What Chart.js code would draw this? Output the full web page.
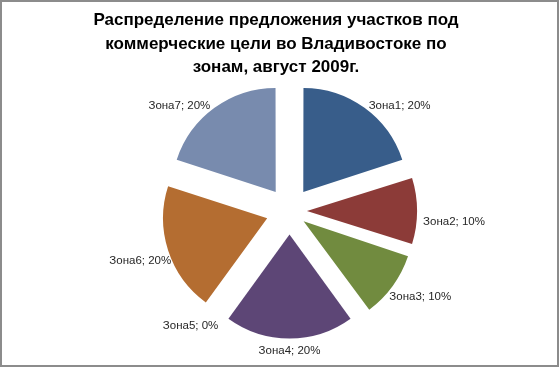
<!DOCTYPE html>
<html>
<head>
<meta charset="utf-8">
<script src="https://cdn.jsdelivr.net/npm/chart.js@4.4.0/dist/chart.umd.min.js"></script>
<style>
  html, body { margin: 0; padding: 0; background: #fff; }
  #wrap { width: 559px; height: 367px; position: relative; }
  canvas { display: block; }
</style>
</head>
<body>
<div id="wrap"><canvas id="c" width="559" height="367"></canvas></div>
<script>
const titleLines = ['Распределение предложения участков под', 'коммерческие цели во Владивостоке по', 'зонам, август 2009г.'];
const categories = ['Зона1', 'Зона2', 'Зона3', 'Зона4', 'Зона5', 'Зона6', 'Зона7'];
const shares = [20, 10, 10, 20, 0, 20, 20];
const colors = ['#385D8A', '#8C3B38', '#718B3F', '#5D4676', '#4BACC6', '#B46D31', '#788BAE'];

const EXPLODE = 24.6; // desired pixel shift of each slice
// Chart.js shifts an arc by offset/4 * (2 - sin(circumference)); invert that
function explodeOffset(circ) {
  return 4 * EXPLODE / (2 - Math.sin(Math.min(Math.PI, circ)));
}

const frameAndTitle = {
  id: 'frameAndTitle',
  beforeDraw(chart) {
    const ctx = chart.ctx;
    ctx.save();
    ctx.fillStyle = '#ffffff';
    ctx.fillRect(0, 0, chart.width, chart.height);
    ctx.restore();
  },
  afterDraw(chart) {
    const ctx = chart.ctx;
    ctx.save();
    ctx.strokeStyle = '#8c8c8c';
    ctx.lineWidth = 2;
    ctx.strokeRect(1, 1, chart.width - 2, chart.height - 2);
    ctx.fillStyle = '#000000';
    ctx.font = 'bold 17px "Liberation Sans", Arial, sans-serif';
    ctx.textAlign = 'center';
    ctx.textBaseline = 'middle';
    const ys = [20, 44, 67];
    titleLines.forEach((t, i) => ctx.fillText(t, 276, ys[i]));
    const meta = chart.getDatasetMeta(0);
    ctx.font = '11.5px "Liberation Sans", Arial, sans-serif';
    ctx.fillStyle = '#262626';
    meta.data.forEach((arc, i) => {
      const p = arc.getProps(['x', 'y', 'startAngle', 'endAngle', 'outerRadius'], true);
      const a = (p.startAngle + p.endAngle) / 2;
      const cx = p.x + Math.cos(a) * EXPLODE;
      const cy = p.y + Math.sin(a) * EXPLODE;
      const px = cx + Math.cos(a) * (p.outerRadius + 2);
      const py = cy + Math.sin(a) * (p.outerRadius + 2);
      const c = Math.cos(a), s = Math.sin(a);
      const dir = c > 0.2 ? 1 : (c < -0.2 ? -1 : 0);
      ctx.textAlign = dir > 0 ? 'left' : (dir < 0 ? 'right' : 'center');
      let x = px, y;
      if (s > 0.2) { y = py + 10; x = px - dir * 5; }
      else if (s < -0.2) { y = py; x = px + dir * 3; }
      else { y = py + 11; x = px + dir * 4; }
      ctx.textBaseline = 'middle';
      ctx.fillText(chart.data.labels[i] + '; ' + shares[i] + '%', x, y);
    });
    ctx.restore();
  }
};

const total = shares.reduce((a, b) => a + b, 0);

new Chart(document.getElementById('c'), {
  type: 'pie',
  data: {
    labels: categories,
    datasets: [{
      data: shares,
      backgroundColor: colors,
      borderWidth: 0,
      offset: (ctx) => explodeOffset((ctx.parsed || 0) / total * 2 * Math.PI)
    }]
  },
  options: {
    responsive: false,
    animation: false,
    radius: 103,
    layout: { padding: { left: 20, right: 0, top: 60, bottom: 5 } },
    plugins: {
      legend: { display: false },
      tooltip: { enabled: false },
      title: { display: false }
    }
  },
  plugins: [frameAndTitle]
});
</script>
</body>
</html>
